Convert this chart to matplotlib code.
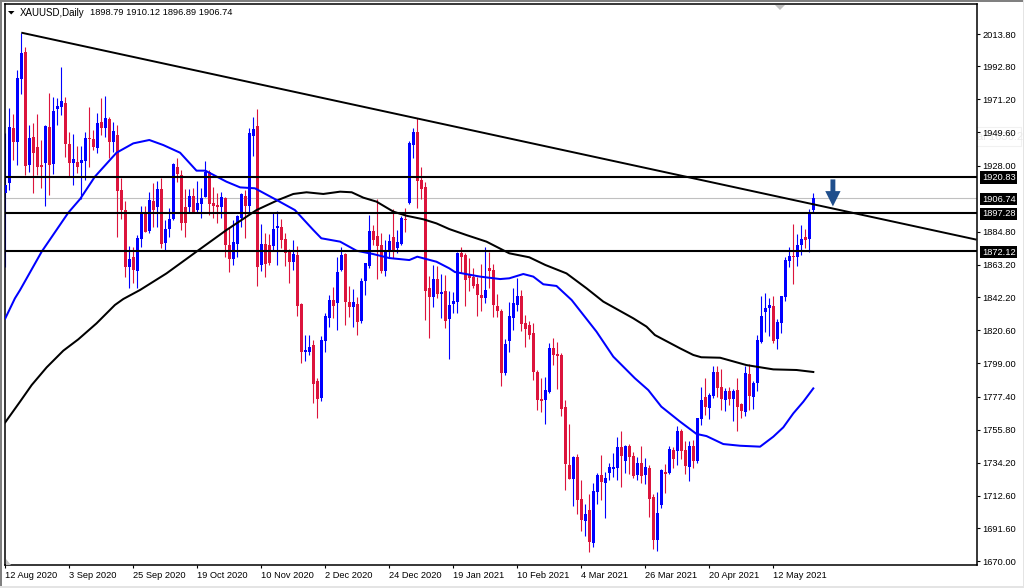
import matplotlib
matplotlib.use("Agg")
import matplotlib.pyplot as plt
from matplotlib.patches import Rectangle, Polygon, FancyArrowPatch

symbol = "XAUUSD,Daily"
last_ohlc = "1898.79 1910.12 1896.89 1906.74"

highs = [1949.0,1965.3,1961.6,1990.3,2014.7,2005.6,1954.5,1955.6,1961.4,1944.7,
1954.5,1975.6,1973.0,1971.9,1992.1,1972.5,1950.1,1948.6,1940.8,1941.0,
1950.1,1966.0,1951.2,1962.1,1971.9,1973.4,1959.5,1956.6,1954.5,1919.7,
1904.9,1875.6,1874.7,1882.7,1901.6,1901.6,1911.0,1916.9,1918.2,1920.1,
1892.5,1900.1,1929.5,1932.7,1925.1,1912.5,1912.5,1913.2,1918.0,1913.2,
1931.0,1925.1,1913.8,1910.3,1911.0,1907.7,1888.2,1892.5,1895.8,1910.3,
1912.1,1952.3,1959.5,1964.7,1889.9,1883.8,1883.4,1896.9,1898.6,1893.4,
1883.8,1873.4,1879.5,1875.6,1838.2,1817.5,1817.5,1814.3,1789.3,1816.9,
1831.6,1843.6,1849.0,1868.6,1875.1,1871.2,1849.5,1847.3,1842.5,1854.5,
1864.7,1895.8,1889.3,1906.0,1883.8,1879.5,1883.2,1899.5,1886.0,1895.1,
1900.1,1944.0,1952.3,1958.8,1926.9,1917.1,1856.0,1863.2,1862.5,1857.3,
1856.4,1846.4,1845.8,1871.6,1874.7,1871.2,1867.5,1861.0,1855.6,1863.8,
1874.7,1871.4,1863.8,1844.0,1834.3,1814.7,1839.3,1848.0,1854.5,1846.9,
1830.6,1826.9,1825.6,1794.7,1789.3,1789.9,1812.5,1815.8,1813.2,1805.6,
1775.1,1759.5,1738.6,1739.9,1722.9,1707.3,1713.8,1720.8,1727.3,1739.2,
1728.4,1733.8,1740.3,1751.2,1755.1,1745.8,1746.2,1741.4,1738.2,1745.1,
1737.1,1732.7,1713.8,1715.3,1729.9,1733.2,1745.1,1744.2,1758.2,1756.0,
1748.6,1748.6,1749.0,1763.2,1783.4,1789.3,1779.5,1797.3,1797.3,1795.1,
1782.7,1783.8,1782.1,1789.3,1773.0,1797.3,1798.6,1787.5,1817.5,1843.2,
1844.7,1841.4,1842.9,1828.0,1842.9,1868.2,1874.7,1889.9,1883.4,1889.3,
1886.4,1899.5,1910.12]

lows = [1862.1,1912.1,1931.6,1928.4,1974.7,1921.9,1924.0,1910.3,1921.9,1913.2,
1901.6,1908.8,1922.5,1954.5,1961.0,1933.8,1920.8,1915.3,1923.0,1906.0,
1918.6,1927.3,1938.2,1936.4,1948.0,1946.4,1932.7,1937.1,1881.2,1893.0,
1855.1,1848.0,1851.6,1848.0,1874.7,1884.9,1883.8,1888.2,1888.2,1874.0,
1872.5,1881.2,1892.5,1917.5,1886.0,1881.6,1896.9,1896.9,1896.9,1893.6,
1907.3,1895.8,1893.6,1890.3,1893.6,1868.6,1858.8,1863.2,1868.6,1888.2,
1880.6,1896.9,1934.3,1849.7,1859.5,1855.6,1863.2,1873.0,1863.2,1874.0,
1862.7,1851.6,1859.9,1829.9,1799.5,1800.6,1804.5,1773.4,1763.6,1774.7,
1806.6,1822.9,1828.8,1820.8,1859.5,1824.0,1829.5,1823.0,1817.5,1825.1,
1843.6,1861.4,1876.2,1854.0,1857.7,1856.0,1868.6,1868.0,1870.8,1876.2,
1884.9,1903.0,1933.2,1900.1,1906.0,1827.3,1815.8,1836.0,1841.4,1828.4,
1822.3,1801.6,1831.6,1831.6,1857.7,1836.4,1846.4,1848.0,1829.9,1833.4,
1838.6,1848.4,1829.0,1829.0,1784.5,1791.4,1806.6,1820.8,1833.4,1820.3,
1809.9,1814.7,1788.2,1768.6,1767.5,1759.5,1779.5,1798.0,1782.3,1764.9,
1716.4,1723.6,1706.0,1700.8,1689.9,1686.4,1676.2,1679.5,1707.3,1709.9,
1698.2,1722.9,1725.1,1722.9,1718.6,1727.7,1726.9,1724.0,1722.9,1720.8,
1720.3,1699.0,1678.2,1676.9,1704.7,1714.2,1726.9,1730.6,1732.7,1736.4,
1726.9,1722.3,1730.6,1733.8,1758.8,1765.3,1762.9,1776.6,1776.9,1768.6,
1768.2,1771.6,1761.6,1755.1,1763.2,1764.9,1768.6,1769.5,1781.2,1812.1,
1819.7,1816.9,1812.5,1808.2,1819.0,1839.9,1862.1,1850.8,1862.7,1869.7,
1874.0,1871.9,1896.89]

opens = [1910.3,1916.9,1952.7,1943.6,1984.3,2001.9,1928.4,1946.4,1939.9,1928.2,
1929.9,1953.0,1928.8,1965.1,1966.4,1968.6,1942.1,1929.9,1930.3,1929.9,
1931.0,1946.0,1945.1,1939.3,1956.4,1952.5,1958.2,1943.6,1948.0,1912.1,
1899.0,1862.1,1868.6,1859.5,1880.3,1897.7,1885.6,1904.9,1900.8,1912.5,
1877.3,1886.9,1893.0,1927.3,1921.9,1900.8,1900.8,1908.2,1899.0,1903.0,
1907.7,1923.6,1903.4,1902.1,1900.8,1906.9,1876.0,1866.9,1876.9,1893.6,
1908.2,1901.6,1947.3,1953.8,1863.2,1876.9,1876.4,1875.6,1887.3,1887.7,
1879.9,1871.9,1865.3,1869.7,1837.7,1806.6,1806.4,1811.0,1787.5,1776.2,
1813.8,1828.8,1840.3,1838.2,1859.9,1870.3,1839.3,1836.0,1837.5,1826.9,
1852.7,1862.7,1885.3,1882.1,1876.2,1859.3,1871.9,1881.4,1874.3,1876.9,
1893.4,1903.4,1941.4,1949.9,1918.6,1913.8,1848.0,1842.5,1853.8,1844.3,
1846.0,1828.2,1837.7,1839.3,1870.8,1869.7,1856.4,1855.1,1850.8,1843.6,
1841.9,1861.2,1859.7,1836.4,1833.4,1793.0,1813.8,1828.6,1837.3,1843.0,
1825.1,1823.8,1818.6,1793.6,1775.8,1775.1,1780.6,1809.3,1805.1,1804.5,
1770.3,1732.7,1723.6,1737.9,1710.6,1696.4,1703.4,1682.1,1715.3,1726.2,
1721.2,1727.7,1730.1,1730.8,1744.2,1735.6,1745.1,1738.6,1726.2,1733.8,
1726.2,1730.6,1711.6,1683.8,1706.9,1727.9,1727.3,1742.5,1742.1,1754.9,
1742.5,1731.6,1745.1,1735.1,1762.5,1776.9,1770.1,1777.7,1793.4,1783.4,
1775.1,1781.0,1776.0,1781.6,1772.5,1767.5,1792.1,1777.3,1786.0,1813.2,
1832.7,1835.3,1836.6,1814.9,1825.6,1842.5,1866.0,1869.0,1868.6,1876.2,
1881.2,1880.3,1898.79]

closes = [1915.3,1953.4,1943.6,1984.9,2001.2,1928.0,1945.8,1936.4,1927.3,1927.3,
1953.8,1928.4,1963.6,1966.9,1970.1,1942.1,1929.9,1932.1,1927.3,1931.6,
1945.8,1945.1,1939.9,1955.6,1952.5,1959.0,1943.6,1950.6,1911.6,1899.0,
1862.1,1866.9,1859.9,1881.0,1897.3,1884.9,1905.6,1899.0,1912.5,1876.9,
1886.4,1893.2,1929.0,1922.5,1890.3,1890.8,1908.2,1897.7,1903.8,1906.9,
1924.0,1903.0,1901.6,1900.8,1907.7,1876.0,1866.9,1878.2,1895.1,1909.5,
1901.6,1949.0,1951.9,1862.1,1876.9,1863.8,1864.3,1886.6,1888.6,1879.5,
1871.2,1865.3,1870.3,1836.6,1806.6,1807.7,1809.9,1785.6,1776.0,1814.3,
1829.9,1840.3,1836.4,1858.8,1869.7,1839.3,1836.0,1839.3,1826.2,1852.7,
1864.7,1885.3,1879.5,1875.6,1859.3,1873.0,1878.8,1871.9,1878.2,1893.8,
1892.7,1942.5,1949.9,1918.2,1913.0,1846.4,1842.5,1853.8,1844.3,1845.3,
1826.9,1836.9,1839.5,1871.2,1868.6,1853.4,1854.9,1849.5,1843.6,1841.9,
1846.9,1859.5,1837.3,1833.4,1793.0,1811.6,1829.9,1838.2,1843.0,1824.7,
1821.6,1817.7,1793.6,1775.1,1774.5,1781.6,1809.3,1804.5,1804.0,1769.3,
1733.4,1723.6,1738.2,1709.9,1696.9,1700.8,1682.7,1715.6,1726.2,1721.9,
1724.2,1731.2,1731.2,1744.2,1738.6,1745.3,1738.2,1725.8,1733.8,1725.8,
1731.2,1710.6,1683.8,1701.2,1729.5,1726.9,1743.2,1736.6,1754.9,1742.1,
1732.3,1745.1,1735.3,1763.2,1775.1,1770.8,1778.2,1793.4,1782.9,1775.8,
1781.0,1775.8,1781.0,1770.8,1768.2,1792.5,1777.7,1786.0,1814.3,1829.9,
1834.9,1837.1,1813.8,1825.8,1842.9,1866.4,1869.0,1868.4,1876.2,1879.9,
1879.5,1898.0,1906.74]

ma_fast_x = [0,2.4,3.7,9.1,15.75,18.7,22.4,27.8,32,36,39.5,43.7,47.8,50,55.3,58.7,62.4,67.8,72.4,77,79,83.7,
87.8,92,96,101,103,107.8,111,112.4,118.7,123.7,126,129.5,132,134.5,137.8,141.6,147.8,152,157.4,160.75,
164,168.7,172.8,175.3,179.5,183.7,188.7,192,194.5,197,199.5,202]
ma_fast_y = [1828.4,1841.4,1846.9,1871.9,1897.3,1906.2,1920.8,1936.4,1942.5,1944.7,1941.4,1936.4,1924.7,1924.7,
1917.5,1913.8,1913.2,1905.6,1899.0,1886.0,1880.6,1878.4,1872.5,1870.3,1867.7,1866.4,1868.6,1865.3,1861.0,
1858.6,1855.6,1854.0,1854.5,1857.3,1855.6,1850.6,1849.5,1840.3,1819.7,1803.4,1789.3,1781.6,1770.8,1761.0,
1753.0,1751.6,1746.4,1745.3,1744.7,1751.2,1757.3,1766.4,1774.0,1782.7]
ma_slow_x = [0,3.67,6.6,10.33,14.5,18.25,22.8,27.4,29.5,33.7,40.3,47.8,55.3,62.8,68.25,72,75.3,79.5,83.7,86.6,89.5,92.8,97,100.3,
104.5,107.8,111,115.3,120.3,126,131,135,140.3,145.3,149.5,157,160.3,162.4,168.7,172,174,178.7,185.3,192,197.8,202]
ma_slow_y = [1760.6,1774.0,1784.9,1796.4,1807.3,1814.7,1825.1,1837.1,1841.0,1846.9,1857.7,1871.9,1886.0,1899.0,1905.6,1909.5,1910.6,
1909.5,1911.0,1910.6,1907.1,1904.5,1898.0,1895.3,1893.0,1890.3,1886.6,1882.7,1878.4,1870.8,1868.2,1863.2,
1857.7,1848.0,1839.3,1828.4,1823.0,1817.5,1808.8,1804.5,1803.0,1802.7,1797.9,1795.1,1794.7,1793.4]

trend_x = [4, 242.8]
trend_y = [2014.7, 1879.7]
levels = [1920.83, 1897.28, 1872.12]
bid = 1906.74

price_ticks = [2013.80,1992.80,1971.20,1949.60,1928.00,1884.80,1863.20,1842.20,1820.60,1799.00,
               1777.40,1755.80,1734.20,1712.60,1691.60,1670.00]
date_ticks = [0,16,32,48,64,80,96,112,128,144,160,176,192]
date_labels = ["12 Aug 2020","3 Sep 2020","25 Sep 2020","19 Oct 2020","10 Nov 2020","2 Dec 2020",
               "24 Dec 2020","19 Jan 2021","10 Feb 2021","4 Mar 2021","26 Mar 2021","20 Apr 2021","12 May 2021"]
arrow_x = 206.9
arrow_from = 1919.0
arrow_to = 1901.4

W, H = 1024, 588
FONT = "Liberation Sans"
FS = 6.65
plt.rcParams["font.family"] = FONT

BLUE, RED = "#0000FF", "#DC143C"

fig = plt.figure(figsize=(W/100, H/100), dpi=100, facecolor="white")
L, R, T, B = 4.8, 976.5, 4.3, 565.3
ax = fig.add_axes([L/W, 1-B/H, (R-L)/W, (B-T)/H])
ax.set_xlim((L-5.3)/4, (R-5.3)/4)
ax.set_ylim(2036-3*B/4.6, 2036-3*T/4.6)

def fig_px(x, y):
    return (x/W, 1-y/H)

# window frame
for rect, col in [((0,0,W,1.6),"#808080"), ((0,0,1.5,H),"#808080"), ((0,H-2.5,W,2.5),"#E4E4E4"), ((W-1.5,0,1.5,H),"#E4E4E4")]:
    x, y, w, h = rect
    fig.add_artist(Rectangle((x/W, 1-(y+h)/H), w/W, h/H, transform=fig.transFigure, fc=col, ec="none"))

# watermark box
fig.add_artist(Rectangle((943/W, 1-146/H), 78/W, 19/H, transform=fig.transFigure, fc="none", ec="#F1F1F1", lw=0.8, zorder=-1))
fig.text(949/W, 1-137/H, "Vertical 1636.2", fontsize=8, color="#E9E9E9", va="center", zorder=-1)

xs = list(range(len(opens)))
cols = [BLUE if c >= o else RED for o, c in zip(opens, closes)]
ax.vlines(xs, lows, highs, colors=cols, lw=0.8, zorder=2)
ax.bar(xs, [max(abs(c-o), 0.6) for o, c in zip(opens, closes)], bottom=[min(o, c) for o, c in zip(opens, closes)],
       width=0.72, color=cols, lw=0, zorder=3)

ax.plot(ma_slow_x, ma_slow_y, color="black", lw=1.45, zorder=4, solid_joinstyle="round")
ax.plot(ma_fast_x, ma_fast_y, color=BLUE, lw=1.45, zorder=4, solid_joinstyle="round")
ax.plot(trend_x, trend_y, color="black", lw=1.4, zorder=5, solid_capstyle="butt")
ax.axhline(bid, color="#C0C0C0", lw=0.8, zorder=1)
for lv in levels:
    ax.axhline(lv, color="black", lw=1.5, zorder=5)

ax.add_patch(FancyArrowPatch((arrow_x, arrow_from), (arrow_x, arrow_to), arrowstyle="simple,head_length=1.0,head_width=1.0,tail_width=0.32",
                             mutation_scale=11, color="#1F4E8C", lw=0, shrinkA=0, shrinkB=0, zorder=6))

for s in ax.spines.values():
    s.set_linewidth(1.1)
    s.set_color("black")
ax.yaxis.tick_right()
ax.set_yticks(price_ticks)
ax.set_yticklabels([f"{p:.2f}" for p in price_ticks], fontsize=FS, color="black")
ax.tick_params(axis="y", direction="out", length=2.4, width=0.8, pad=2.0)
ax.set_xticks(date_ticks)
ax.set_xticklabels(date_labels, fontsize=FS, color="black", ha="left")
ax.tick_params(axis="x", direction="out", length=2.4, width=0.8, pad=2.0)

# right-hand price flags
trans = ax.get_yaxis_transform()
for p in levels + [bid]:
    ax.text(1.0056, p, f"{p:.2f}", transform=trans, fontsize=FS, color="white", va="center_baseline", ha="left", clip_on=False, zorder=10,
            bbox=dict(boxstyle="square,pad=0.18", fc="black", ec="black", lw=0))

# header
fig.text(19.5/W, 1-12.5/H, symbol, fontsize=7.0, color="black", va="center")
fig.text(90.5/W, 1-12.5/H, last_ohlc, fontsize=FS, color="black", va="center")
fig.add_artist(Polygon([fig_px(8, 11), fig_px(14.5, 11), fig_px(11.2, 14.5)], closed=True, transform=fig.transFigure, fc="black", ec="none"))
# chart markers
fig.add_artist(Polygon([fig_px(775, 5), fig_px(785, 5), fig_px(780, 10)], closed=True, transform=fig.transFigure, fc="#C0C0C0", ec="none", zorder=8))
fig.add_artist(Polygon([fig_px(5.5, 559), fig_px(5.5, 564.5), fig_px(11, 564.5)], closed=True, transform=fig.transFigure, fc="#C0C0C0", ec="none", zorder=8))

fig.savefig("out.png", dpi=100)
